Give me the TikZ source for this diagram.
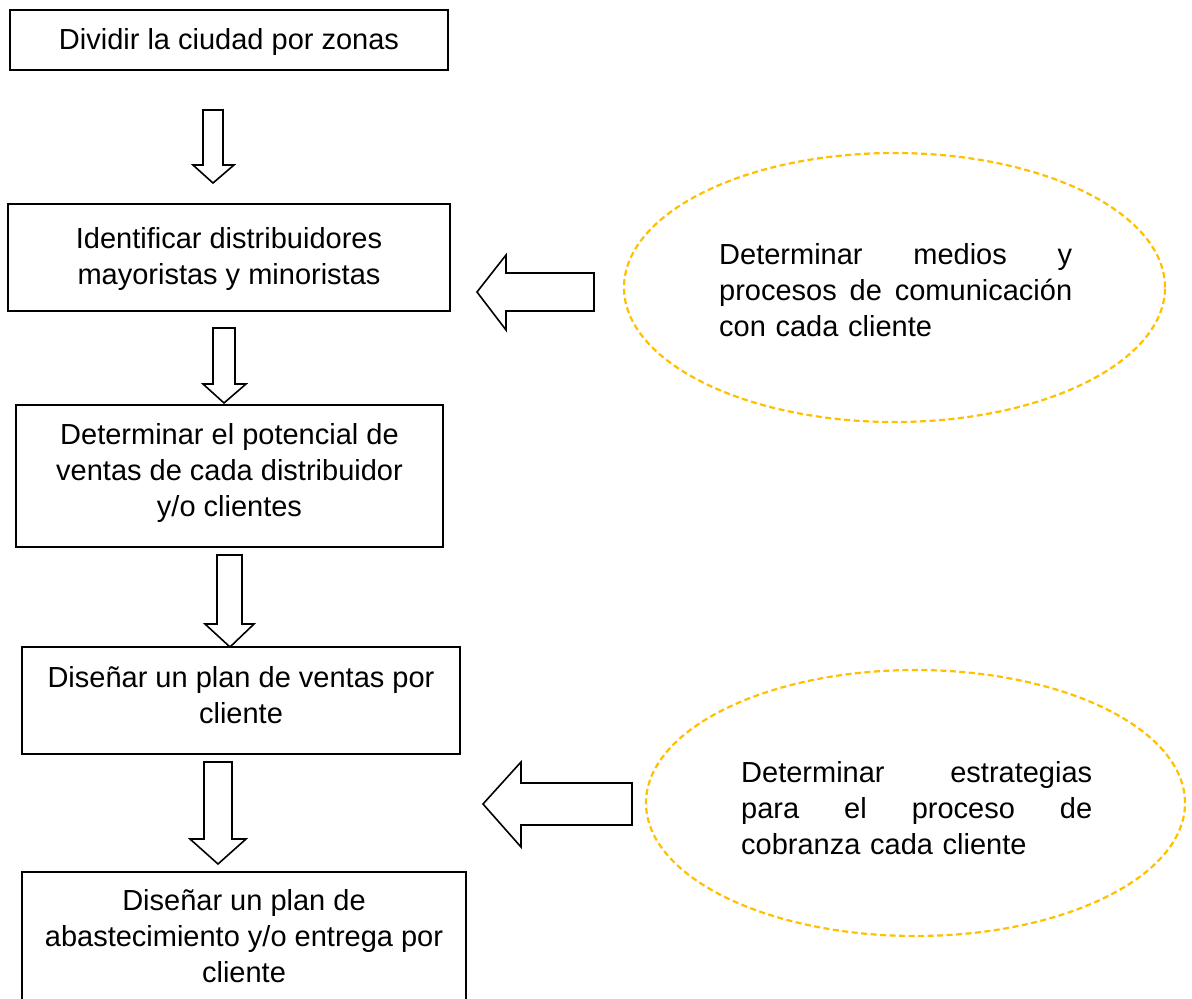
\documentclass[tikz,border=0pt]{standalone}
\usepackage{fontspec}
\setmainfont{Liberation Sans}
\usetikzlibrary{shapes.geometric}
\definecolor{gold}{HTML}{FFC000}
\begin{document}
\begin{tikzpicture}[x=1pt,y=-1pt,
  box/.style={draw,line width=1.7pt,rectangle,inner sep=0pt},
  txt/.style={inner sep=0pt,anchor=north,align=center,font=\fontsize{29}{36}\selectfont},
  jtxt/.style={inner sep=0pt,anchor=north west,align=left,text width=#1,font=\fontsize{29}{36}\selectfont},
  barrow/.style={draw,line width=1.6pt,fill=white,line join=miter},
  ell/.style={draw=gold,line width=2.2pt,ellipse,inner sep=0pt,dash pattern=on 6pt off 3.5pt}]
\useasboundingbox[fill=white] (0,0) rectangle (1192,999);

% boxes
\node[box,minimum width=438pt,minimum height=60pt]  (b1) at (229,40) {};
\node[box,minimum width=442pt,minimum height=107pt] (b2) at (229,257.5) {};
\node[box,minimum width=427pt,minimum height=142pt] (b3) at (229.5,476) {};
\node[box,minimum width=438pt,minimum height=107pt] (b4) at (241,700.5) {};
\node[box,minimum width=444pt,minimum height=131pt] (b5) at (244,937.5) {};

% box texts
\node[txt] (t1) at (229,27) {\rule{0pt}{22pt}Dividir la ciudad por zonas};
\node[txt] (t2) at (229,226) {\rule{0pt}{22pt}Identificar distribuidores\\mayoristas y minoristas};
\node[txt] (t3) at (229.5,422) {\rule{0pt}{22pt}Determinar el potencial de\\ventas de cada distribuidor\\y/o clientes};
\node[txt] (t4) at (241,665) {\rule{0pt}{22pt}Diseñar un plan de ventas por\\cliente};
\node[txt] (t5) at (244,888) {\rule{0pt}{22pt}Diseñar un plan de\\abastecimiento y/o entrega por\\cliente};

% ellipses
\node[ell,minimum width=541pt,minimum height=269pt] (e1) at (894.5,287.5) {};
\node[ell,minimum width=539pt,minimum height=266pt] (e2) at (915.5,803) {};
\node[jtxt=353pt] (t6) at (719,242) {\rule{0pt}{22pt}Determinar\hfill medios\hfill y\\procesos\hfill de\hfill comunicación\\con cada cliente};
\node[jtxt=351pt] (t7) at (741,760) {\rule{0pt}{22pt}Determinar\hfill estrategias\\para\hfill el\hfill proceso\hfill de\\cobranza cada cliente};

% down block arrows
\draw[barrow] (203,110) -- (223,110) -- (223,165) -- (234,165) -- (213,183) -- (193,165) -- (203,165) -- cycle;
\draw[barrow] (213,328) -- (235,328) -- (235,384) -- (246,384) -- (224,403) -- (203,384) -- (213,384) -- cycle;
\draw[barrow] (217,555) -- (242,555) -- (242,624) -- (254,624) -- (230,647) -- (205,624) -- (217,624) -- cycle;
\draw[barrow] (204,762) -- (232,762) -- (232,839) -- (246,839) -- (218,864) -- (190,839) -- (204,839) -- cycle;

% left block arrows
\draw[barrow] (594,273) -- (594,311) -- (506,311) -- (506,330) -- (477,292) -- (506,255) -- (506,273) -- cycle;
\draw[barrow] (632,783) -- (632,825) -- (521,825) -- (521,847) -- (483,804) -- (521,762) -- (521,783) -- cycle;
\end{tikzpicture}
\end{document}
